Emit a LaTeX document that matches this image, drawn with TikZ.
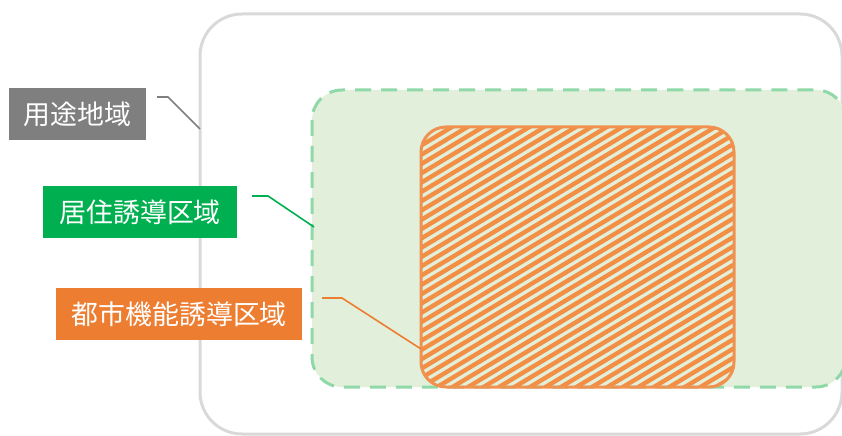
\documentclass[tikz,border=0pt]{standalone}
\usepackage{fontspec}
\setmainfont{Noto Sans CJK JP}
\definecolor{youtogray}{HTML}{7F7F7F}
\definecolor{kyojugreen}{HTML}{00B050}
\definecolor{toshiorange}{HTML}{ED7D31}
\definecolor{areafill}{HTML}{E2EFDA}
\definecolor{areadash}{HTML}{8FD9A8}
\definecolor{framegray}{HTML}{D9D9D9}
\definecolor{hatchorange}{HTML}{F28F45}

\begin{document}
\begin{tikzpicture}[x=1bp,y=-1bp]
\tikzstyle{label}=[text=white,font=\fontsize{27}{30}\selectfont,anchor=north west,inner sep=0pt,minimum height=52bp]
\tikzstyle{leader}=[line width=1.6bp]
\tikzstyle{hatch}=[hatchorange,line width=4.4bp]
\useasboundingbox (0,0) rectangle (842,436);
% areas
\draw[framegray,line width=3bp,rounded corners=42bp] (200,14) rectangle (842,434);
\draw[areadash,fill=areafill,line width=3bp,dash pattern=on 16bp off 10bp,rounded corners=30bp] (312,90) rectangle (846,387);
\begin{scope}
\clip[rounded corners=25bp] (421,127) rectangle (734,387);
\foreach \k in {0,...,50}
	\draw[hatch] (421,127+9.3*\k) -- ++(313,-188);
\end{scope}
\draw[toshiorange!85,line width=3bp,rounded corners=25bp] (421,127) rectangle (734,387);
% labels
\foreach \name/\col/\point/\boxw/\txt in {
	youto/youtogray/{9,88}/137/用途地域,
	kyoju/kyojugreen/{43,186}/194/居住誘導区域,
	toshi/toshiorange/{56,288}/246/都市機能誘導区域}
	\node[label,fill=\col,minimum width=\boxw bp,align=center] (\name) at (\point) {\txt};
\coordinate (youtoA) at (157,97);
\coordinate (youtoB) at (168,97);
\coordinate (youtoC) at (200,129);
\coordinate (kyojuA) at (252,196);
\coordinate (kyojuB) at (268,196);
\coordinate (kyojuC) at (314,227);
\coordinate (toshiA) at (322,298);
\coordinate (toshiB) at (342,298);
\coordinate (toshiC) at (421,349);
\draw[leader,youtogray] (youtoA) -- (youtoB) -- (youtoC);
\draw[leader,kyojugreen] (kyojuA) -- (kyojuB) -- (kyojuC);
\draw[leader,toshiorange] (toshiA) -- (toshiB) -- (toshiC);
\end{tikzpicture}
\end{document}
